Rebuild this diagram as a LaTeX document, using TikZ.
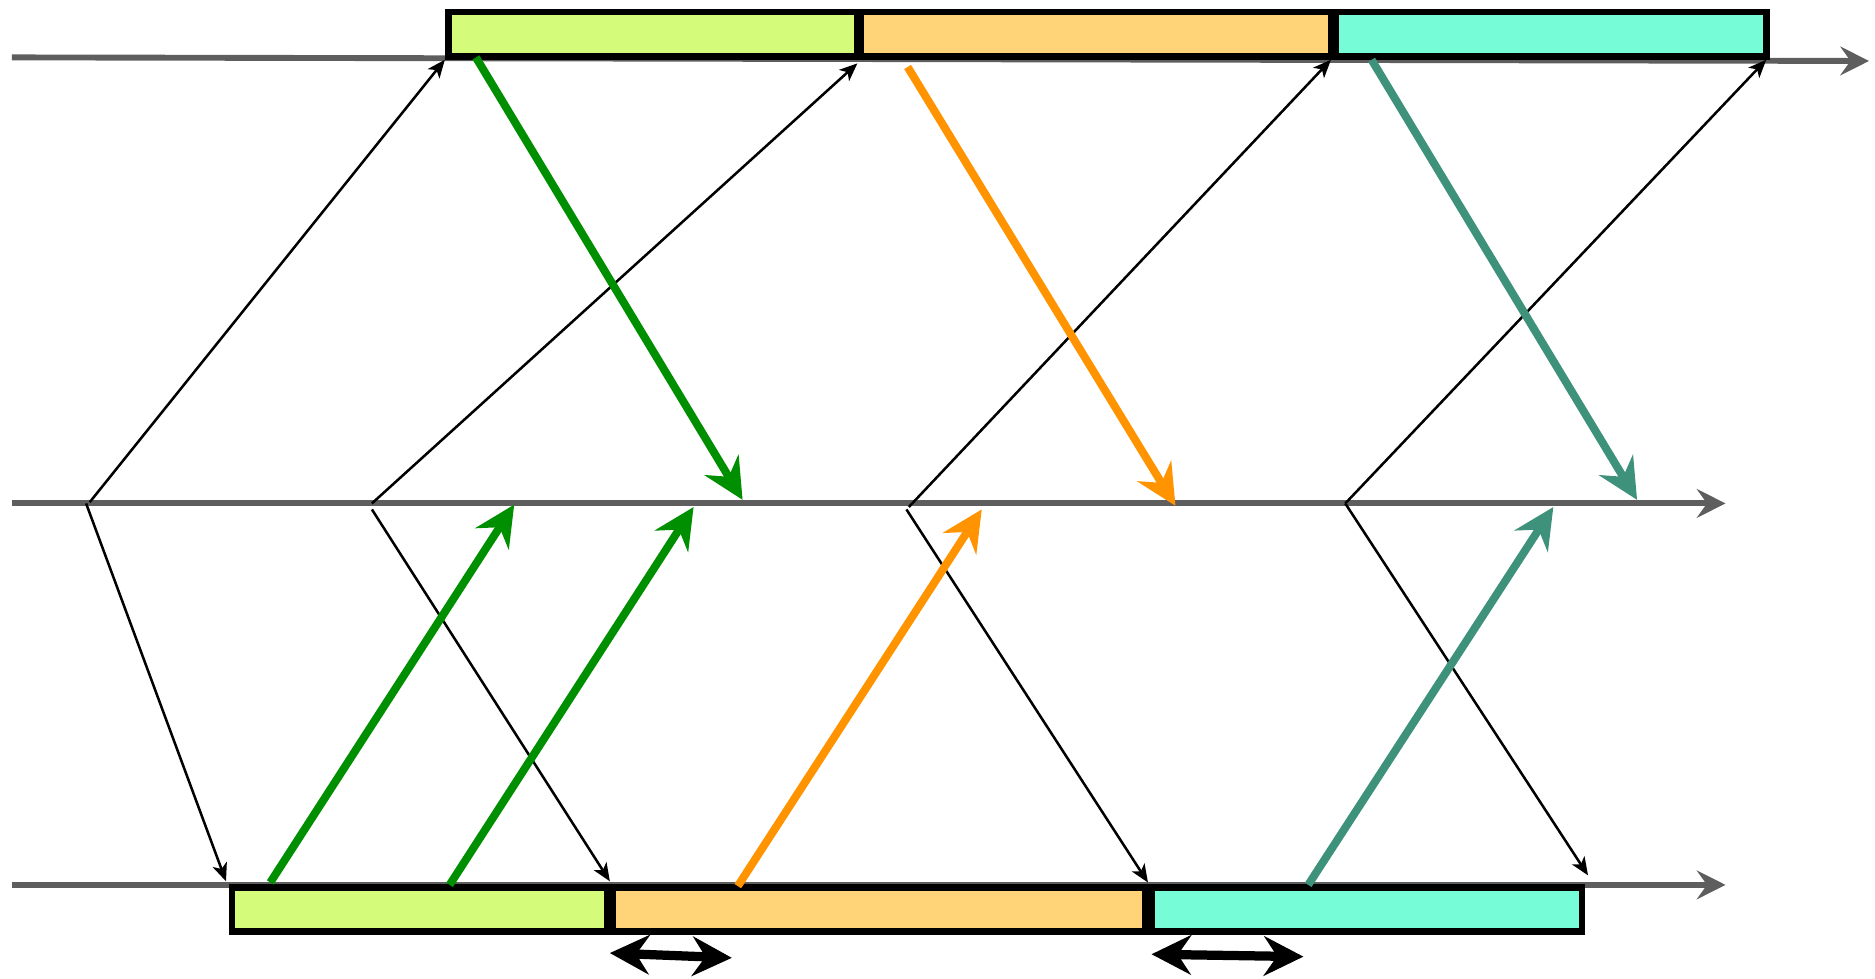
\documentclass[tikz,border=0pt]{standalone}
\usepackage{xcolor}
\usepackage{tikz}
\usetikzlibrary{arrows.meta}
\definecolor{axgrey}{RGB}{94,94,94}
\definecolor{segA}{RGB}{212,251,121}
\definecolor{segB}{RGB}{255,212,121}
\definecolor{segC}{RGB}{118,253,216}
\definecolor{pkA}{RGB}{0,143,0}
\definecolor{pkB}{RGB}{255,147,0}
\definecolor{pkC}{RGB}{62,145,122}
\tikzset{
  axis/.style={draw=axgrey, line width=2.8pt,
               -{Stealth[length=4.8mm, width=4.8mm, inset=1.7mm]}},
  seg/.style={draw=black, line width=3.2pt, minimum height=7.4mm,
              inner sep=0pt, outer sep=0pt, anchor=north west},
  ctl/.style={draw=black, line width=1.2pt,
              -{Stealth[length=3mm, width=2.5mm, inset=0.8mm]}},
  pkt/.style={line width=3.8pt,
              -{Stealth[length=6.8mm, width=6.6mm, inset=2.3mm]}},
  gap/.style={draw=black, line width=4.4pt,
              {Stealth[length=6.6mm, width=6.6mm, inset=2.2mm]}-{Stealth[length=6.6mm, width=6.6mm, inset=2.2mm]}},
}
\begin{document}
\begin{tikzpicture}[x=0.2mm, y=-0.2mm]
\useasboundingbox (0,0) rectangle (1568,818);
% time lines
\coordinate (topL) at (10,48);  \coordinate (topR) at (1563,51);
\coordinate (midL) at (10,421); \coordinate (midR) at (1443,421);
\coordinate (botL) at (10,740); \coordinate (botR) at (1443,740);
\draw[axis] (topL) -- (topR);
\draw[axis] (midL) -- (midR);
\draw[axis] (botL) -- (botR);
% segments
\node[seg, fill=segA, minimum width=68.4mm] (topA) at (375,10) {};
\node[seg, fill=segB, minimum width=78.6mm] (topB) at (720,10) {};
\node[seg, fill=segC, minimum width=72mm] (topC) at (1117,10) {};
\node[seg, fill=segA, minimum width=62.8mm] (botA) at (194,742) {};
\node[seg, fill=segB, minimum width=89.2mm] (botB) at (512,742) {};
\node[seg, fill=segC, minimum width=72mm] (botC) at (963,742) {};
% middle points
\coordinate (m1) at (75,420);
\coordinate (m2) at (311,421);
\coordinate (m3) at (760,424);
\coordinate (m4) at (1125,421);
\coordinate (m1b) at (72,421);
\coordinate (m2b) at (311,426);
\coordinate (m3b) at (758,426);
% control messages
\draw[ctl] (m1) -- (372,50);
\draw[ctl] (m2) -- (717,53);
\draw[ctl] (m3) -- (1113,50);
\draw[ctl] (m4) -- (1477,50);
\draw[ctl] (m1b) -- (189,737);
\draw[ctl] (m2b) -- (510,737);
\draw[ctl] (m3b) -- (960,738);
\draw[ctl] (m4) -- (1328,732);
% data packets, top to middle
\coordinate (dA) at (398,48);  \coordinate (dAe) at (621,418);
\coordinate (dB) at (759,56);  \coordinate (dBe) at (983,423);
\coordinate (dC) at (1147,50); \coordinate (dCe) at (1369,418);
\draw[pkt, pkA] (dA) -- (dAe);
\draw[pkt, pkB] (dB) -- (dBe);
\draw[pkt, pkC] (dC) -- (dCe);
% data packets, bottom to middle
\coordinate (uA) at (226,738);  \coordinate (uAe) at (430,422);
\coordinate (uA2) at (376,740); \coordinate (uA2e) at (580,424);
\coordinate (uB) at (617,741);  \coordinate (uBe) at (821,426);
\coordinate (uC) at (1094,740); \coordinate (uCe) at (1299,424);
\draw[pkt, pkA] (uA) -- (uAe);
\draw[pkt, pkA] (uA2) -- (uA2e);
\draw[pkt, pkB] (uB) -- (uBe);
\draw[pkt, pkC] (uC) -- (uCe);
% gaps
\coordinate (g1) at (510,797); \coordinate (g1e) at (612,801);
\coordinate (g2) at (963,798); \coordinate (g2e) at (1090,800);
\draw[gap] (g1) -- (g1e);
\draw[gap] (g2) -- (g2e);
\end{tikzpicture}
\end{document}
